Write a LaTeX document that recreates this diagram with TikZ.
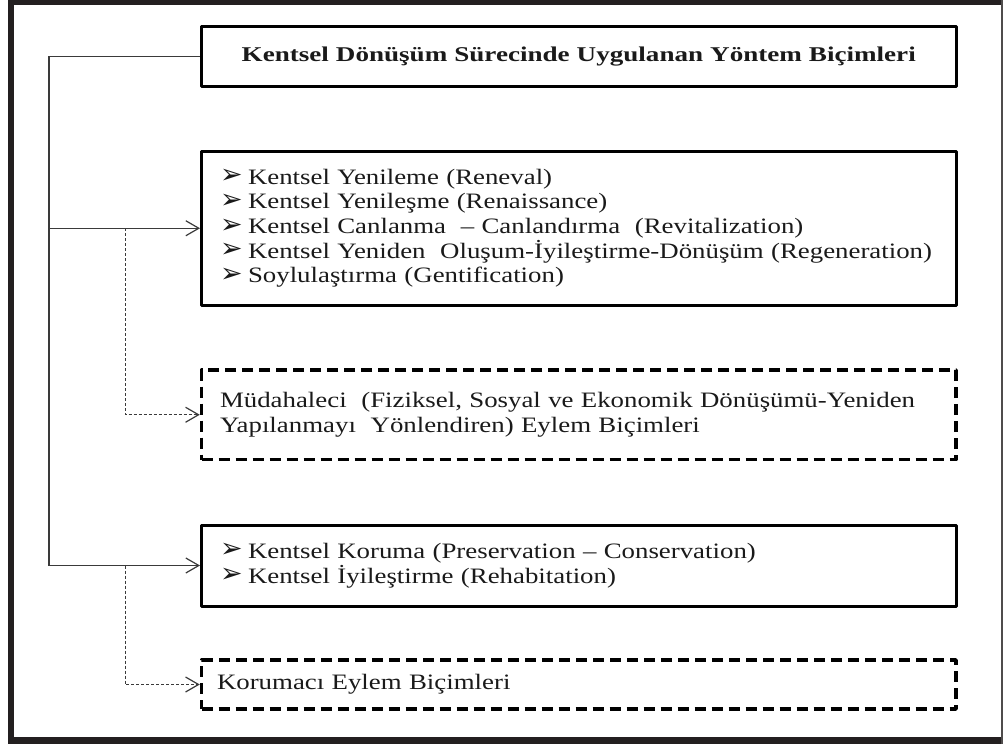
\documentclass[tikz,border=0pt]{standalone}
\usepackage{fontspec}
\setmainfont{Liberation Serif}
\newfontfamily\bodyfont{Liberation Serif}[FakeStretch=1.22]
\newfontfamily\headfont{Liberation Serif}[FakeStretch=1.29]
\newfontfamily\dingfont{DejaVu Sans}
\usetikzlibrary{arrows.meta}

\definecolor{framecol}{HTML}{231F20}
\definecolor{inkcol}{HTML}{1A1A1A}
\definecolor{wirecol}{HTML}{3A3A3A}

% arrowhead bullet in front of list entries
\newcommand{\itm}{\makebox[28pt][l]{\raisebox{0.5pt}{\dingfont\fontsize{27}{27}\selectfont ➢}}}

\tikzset{
  panel/.style={draw=black, line width=3pt, line join=round, fill=white,
    minimum width=754.5pt, text width=717.5pt, inner xsep=18.5pt, inner ysep=0pt,
    align=left, text=inkcol,
    font=\bodyfont\fontsize{22}{24.6}\selectfont},
  dashpanel/.style={panel, dash pattern=on 11pt off 6pt, line width=3.5pt},
  headpanel/.style={panel, align=center, font=\headfont\bfseries\fontsize{21}{24}\selectfont},
  wire/.style={draw=wirecol, line width=1.2pt},
  dwire/.style={draw=wirecol, line width=1pt, dash pattern=on 3pt off 2pt},
  tip/.style={-{Straight Barb[length=13pt, width=15pt, line width=1.2pt]}},
}

\begin{document}
\begin{tikzpicture}[x=1pt, y=-1pt]
  \useasboundingbox (0,0) rectangle (1005,747);
  \fill[white] (0,0) rectangle (1005,747);

  % outer frame
  \fill[framecol] (8,0) rectangle (1001,4.5);
  \fill[framecol] (8,0) rectangle (13.5,744);
  \fill[framecol] (8,737) rectangle (1001,744);
  \draw[framecol!80, line width=2pt] (1002,0) -- (1002,744);

  % boxes
  \node[headpanel, minimum height=60pt] (title) at (578.75,56.5)
    {Kentsel Dönüşüm Sürecinde Uygulanan Yöntem Biçimleri};

  \node[panel, minimum height=153.5pt] (renew) at (578.75,228.25)
    {\itm Kentsel Yenileme (Reneval)\\
     \itm Kentsel Yenileşme (Renaissance)\\
     \itm Kentsel Canlanma \ – Canlandırma \ (Revitalization)\\
     \itm Kentsel Yeniden \ Oluşum-İyileştirme-Dönüşüm (Regeneration)\\
     \itm Soylulaştırma (Gentification)};

  \node[dashpanel, minimum height=89.5pt] (interv) at (578.75,414.75)
    {Müdahaleci \ (Fiziksel, Sosyal ve Ekonomik Dönüşümü-Yeniden\\
     Yapılanmayı \ Yönlendiren) Eylem Biçimleri};

  \node[panel, minimum height=81pt] (protect) at (578.75,565.5)
    {\itm Kentsel Koruma (Preservation – Conservation)\\
     \itm Kentsel İyileştirme (Rehabitation)};

  \node[dashpanel, minimum height=49pt, inner xsep=15.5pt, text width=723.5pt] (guard) at (578.75,684.5)
    {Korumacı Eylem Biçimleri};

  % trunk lines
  \coordinate (trunk) at (49,0);
  \coordinate (drop) at (125,0);

  \draw[wire, tip] (title.west) -- (title.west -| trunk) |- (protect.west);
  \draw[wire, tip] (renew.west -| trunk) -- (renew.west);
  \draw[dwire, tip] (renew.west -| drop) |- (interv.west);
  \draw[dwire, tip] (protect.west -| drop) |- (guard.west);
\end{tikzpicture}
\end{document}
